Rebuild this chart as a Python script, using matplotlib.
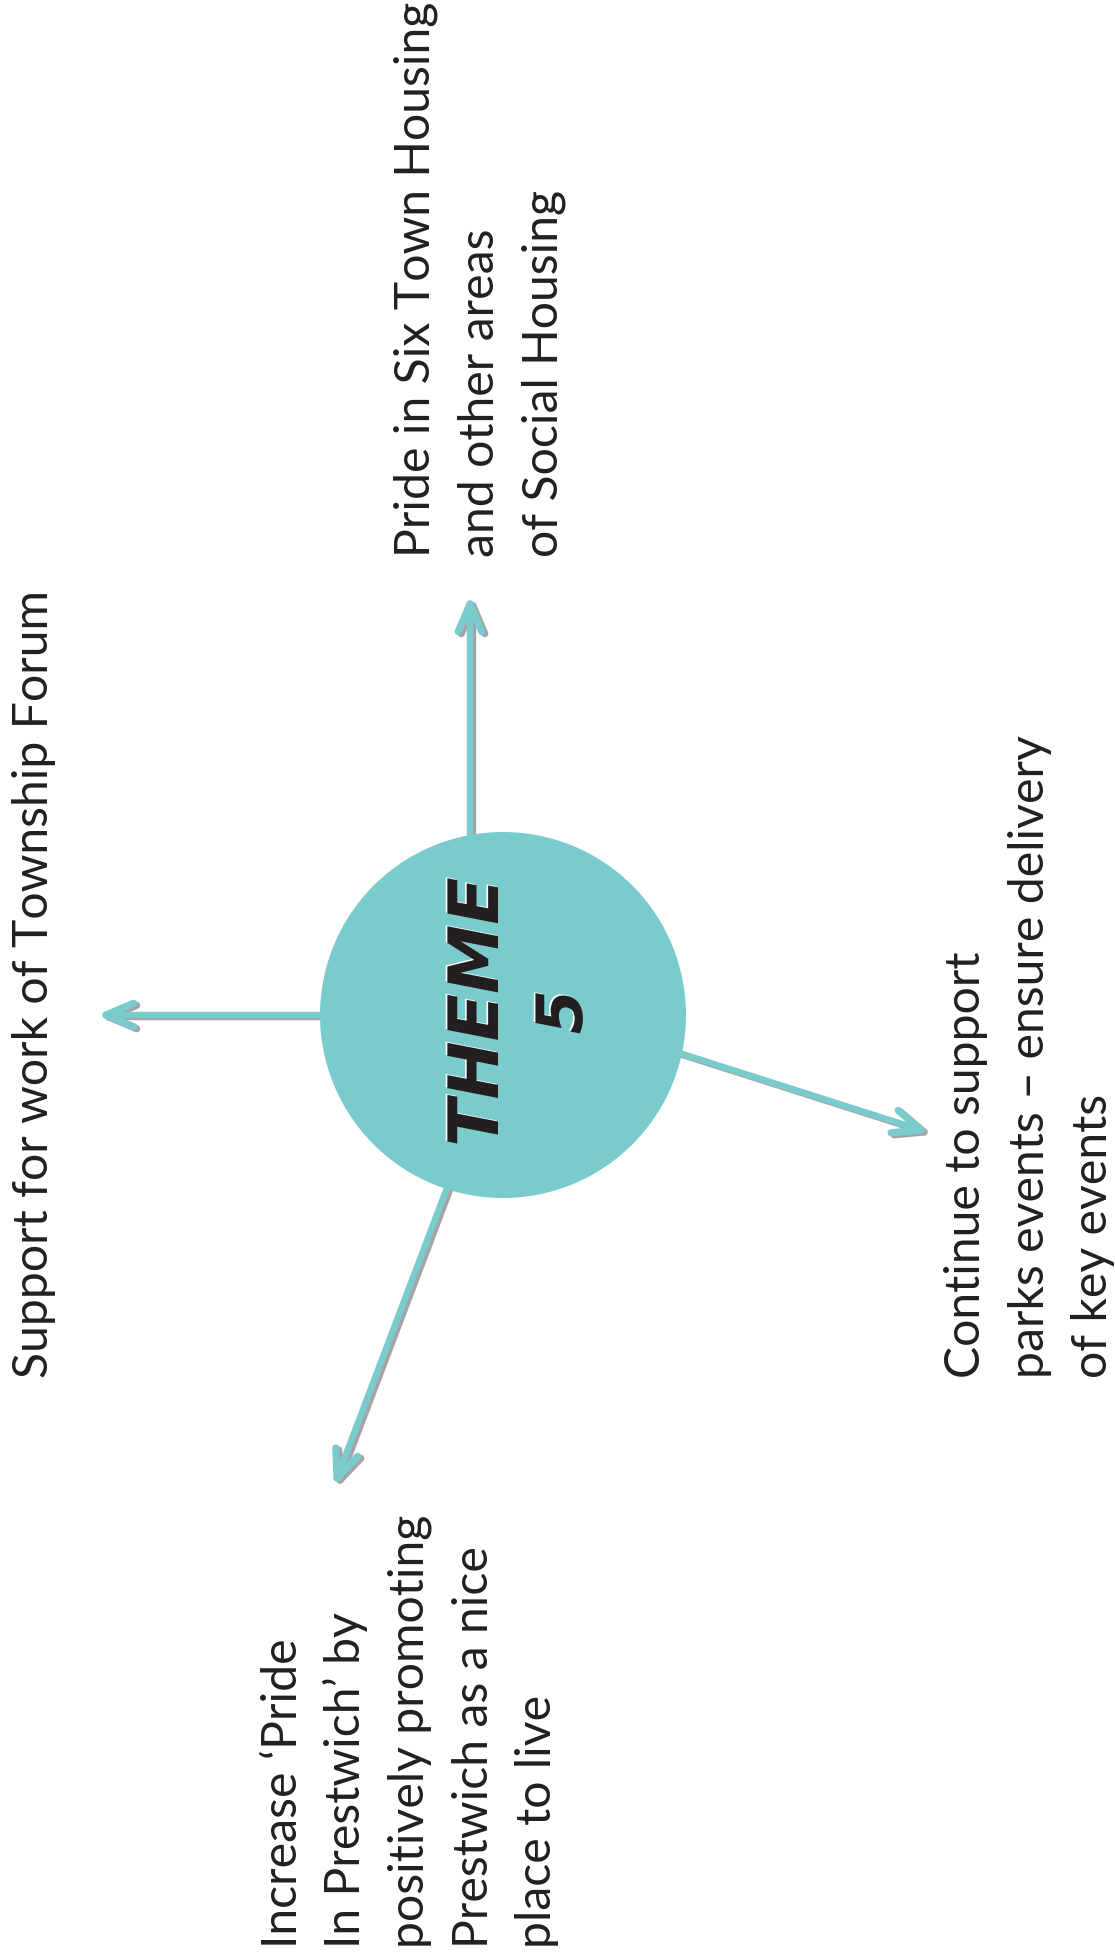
import matplotlib
matplotlib.use("Agg")
import matplotlib.pyplot as plt
from matplotlib.patches import Circle
import matplotlib.patheffects as pe
import numpy as np

# Datos del diagrama (coordenadas en pixeles de la imagen).
centro = (503, 1015)
radio = 183
titulo = "THEME"
numero = "5"

inicios_flecha = [(330, 1015), (470, 850), (670, 1050), (450, 1180)]
puntas_flecha = [(106, 1015), (470, 604), (921, 1130), (337, 1478)]

textos = [
    ["Support for work of Township Forum"],
    ["Pride in Six Town Housing", "and other areas", "of Social Housing"],
    ["Continue to support", "parks events \u2013 ensure delivery", "of key events"],
    ["Increase \u2018Pride", "In Prestwich\u2019 by", "positively promoting",
     "Prestwich as a nice", "place to live"],
]
# linea base (x) de la primera linea y comienzo (y) de cada bloque
bases_x = [48, 430, 980, 297]
inicios_y = [1378, 557, 1378, 1948]
interlineado = 63.5

TEAL = "#7acccc"
GRIS = "#a3a3a8"

fig = plt.figure(figsize=(11.15, 19.54), dpi=100)
ax = fig.add_axes([0, 0, 1, 1])
ax.set_xlim(0, 1115)
ax.set_ylim(1954, 0)
ax.set_aspect("equal")
ax.axis("off")


def flecha(inicio, punta, color, dx=0, dy=0, z=1):
    x0, y0 = inicio[0] + dx, inicio[1] + dy
    x1, y1 = punta[0] + dx, punta[1] + dy
    lw = 4.6
    ax.plot([x0, x1], [y0, y1], color=color, lw=lw, solid_capstyle="butt", zorder=z)
    ang = np.arctan2(y0 - y1, x0 - x1)
    largo = 30
    for s in (-1, 1):
        a = ang + s * np.radians(23)
        ax.plot([x1, x1 + largo * np.cos(a)], [y1, y1 + largo * np.sin(a)],
                color=color, lw=lw + 0.6, solid_capstyle="round", zorder=z)


# sombras grises y luego las flechas
for ini, pun in zip(inicios_flecha, puntas_flecha):
    flecha(ini, pun, GRIS, dx=3, dy=2, z=1)
for ini, pun in zip(inicios_flecha, puntas_flecha):
    flecha(ini, pun, TEAL, z=2)

ax.add_patch(Circle(centro, radio, color=TEAL, zorder=3, lw=0))

efecto = [pe.withSimplePatchShadow(offset=(-1.2, 0.8), shadow_rgbFace="white", alpha=1)]
ax.text(498, 1012, titulo, rotation=90, rotation_mode="anchor", ha="center",
        va="baseline", fontsize=50, fontweight="heavy", style="italic",
        family="DejaVu Sans", color="#231f20", zorder=4, path_effects=efecto)
ax.text(582, 1012, numero, rotation=90, rotation_mode="anchor", ha="center",
        va="baseline", fontsize=46, fontweight="heavy", style="italic",
        family="DejaVu Sans", color="#231f20", zorder=4, path_effects=efecto)

for lineas, bx, y0 in zip(textos, bases_x, inicios_y):
    for i, linea in enumerate(lineas):
        ax.text(bx + i * interlineado, y0, linea, rotation=90, rotation_mode="anchor",
                ha="left", va="baseline", fontsize=34.7, family="Lato",
                color="#231f20", zorder=4)

fig.savefig("out.png", dpi=100)
